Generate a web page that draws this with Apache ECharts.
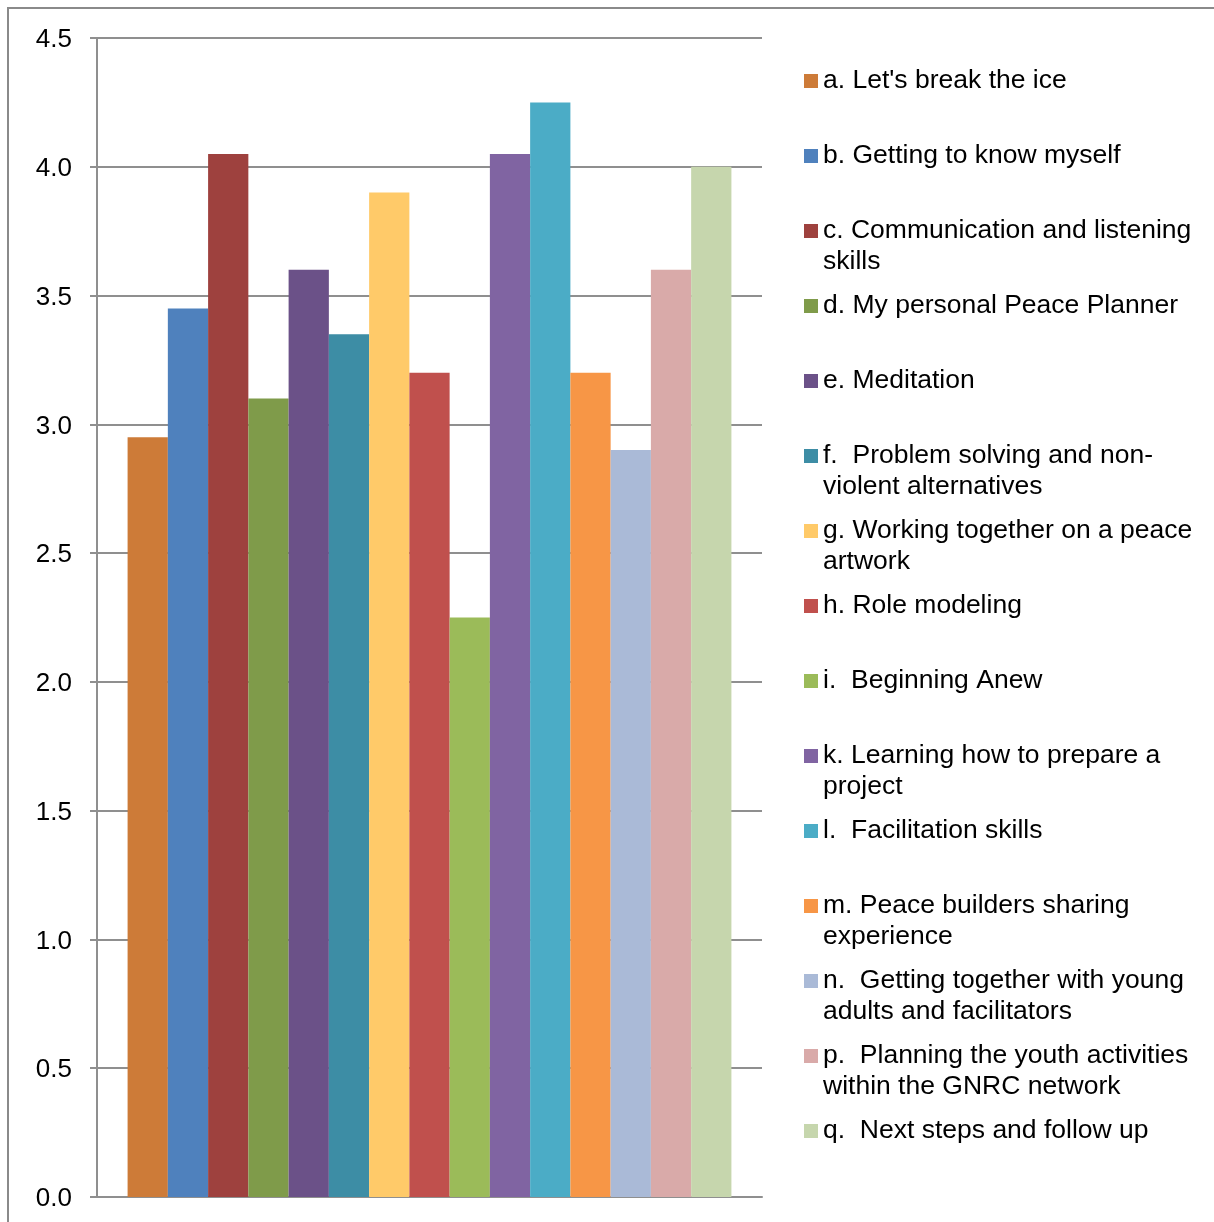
<!DOCTYPE html>
<html>
<head>
<meta charset="utf-8">
<script src="https://cdn.jsdelivr.net/npm/echarts@6/dist/echarts.min.js"></script>
<style>
  html, body { margin: 0; padding: 0; background: #fff; }
  #chart { width: 1214px; height: 1222px; }
</style>
</head>
<body>
<div id="chart"></div>
<script>
// 图例名称（手动换行，和原图一致）
var names = [
  "a. Let's break the ice",
  "b. Getting to know myself",
  "c. Communication and listening\nskills",
  "d. My personal Peace Planner",
  "e. Meditation",
  "f.  Problem solving and non-\nviolent alternatives",
  "g. Working together on a peace\nartwork",
  "h. Role modeling",
  "i.  Beginning Anew",
  "k. Learning how to prepare a\nproject",
  "l.  Facilitation skills",
  "m. Peace builders sharing\nexperience",
  "n.  Getting together with young\nadults and facilitators",
  "p.  Planning the youth activities\nwithin the GNRC network",
  "q.  Next steps and follow up"
];

// 每个系列的数值
var values = [2.95, 3.45, 4.05, 3.1, 3.6, 3.35, 3.9, 3.2, 2.25, 4.05, 4.25, 3.2, 2.9, 3.6, 4.0];

// 柱子颜色
var colors = [
  '#CD7B38', '#4F81BD', '#9E413E', '#7F9B4A', '#6B5188',
  '#3D8DA5', '#FFCA69', '#C0504D', '#9BBB59', '#8064A2',
  '#4BACC6', '#F79646', '#AABAD7', '#D9AAA9', '#C6D6AD'
];

var yTicks = { min: 0, max: 4.5, interval: 0.5 };

var chart = echarts.init(document.getElementById('chart'));

// 系列
var series = names.map(function (n, i) {
  return {
    name: n,
    type: 'bar',
    data: [values[i]],
    barGap: 0,
    barCategoryGap: '9.2%',
    itemStyle: { color: colors[i] },
    emphasis: { disabled: true }
  };
});

// 每个图例单独放一个 legend，间距固定
// 两行的图例前面加一个空行，让色块对齐第一行
var legends = names.map(function (n, i) {
  var twoLines = n.indexOf('\n') >= 0;
  var center = 81 + 75 * i;
  return {
    data: [n],
    left: 804,
    top: twoLines ? center - 46.5 : center - 15.5,
    padding: 0,
    icon: 'rect',
    itemWidth: 14,
    itemHeight: 14,
    itemGap: 0,
    selectedMode: false,
    formatter: function (name) {
      return twoLines ? ' \n' + name : name;
    },
    textStyle: {
      fontFamily: 'Liberation Sans, Arial, sans-serif',
      fontSize: 26.5,
      lineHeight: 31,
      color: '#000'
    }
  };
});

var option = {
  animation: false,
  backgroundColor: '#fff',
  legend: legends,
  grid: { left: 97, right: 452, top: 38, bottom: 25 },
  xAxis: {
    type: 'category',
    data: [''],
    axisLine: { show: true, lineStyle: { color: '#8f8f8f', width: 2 } },
    axisTick: { show: false },
    axisLabel: { show: false }
  },
  yAxis: {
    type: 'value',
    min: yTicks.min,
    max: yTicks.max,
    interval: yTicks.interval,
    axisLine: { show: true, lineStyle: { color: '#8f8f8f', width: 2 } },
    axisTick: { show: true, length: 7, lineStyle: { color: '#8f8f8f', width: 2 } },
    axisLabel: {
      margin: 25,
      color: '#000',
      formatter: function (v) { return '{v|' + v.toFixed(1) + '}'; },
      rich: {
        v: {
          fontFamily: 'Liberation Sans, Arial, sans-serif',
          fontSize: 26,
          color: '#000',
          padding: [4, 0, 0, 0]
        }
      }
    },
    splitLine: { show: true, lineStyle: { color: '#8f8f8f', width: 2 } }
  },
  graphic: [{
    type: 'rect',
    shape: { x: 8, y: 8, width: 1400, height: 1400 },
    style: { fill: 'none', stroke: '#8a8a8a', lineWidth: 2 },
    silent: true
  }],
  series: series
};

chart.setOption(option);
</script>
</body>
</html>
